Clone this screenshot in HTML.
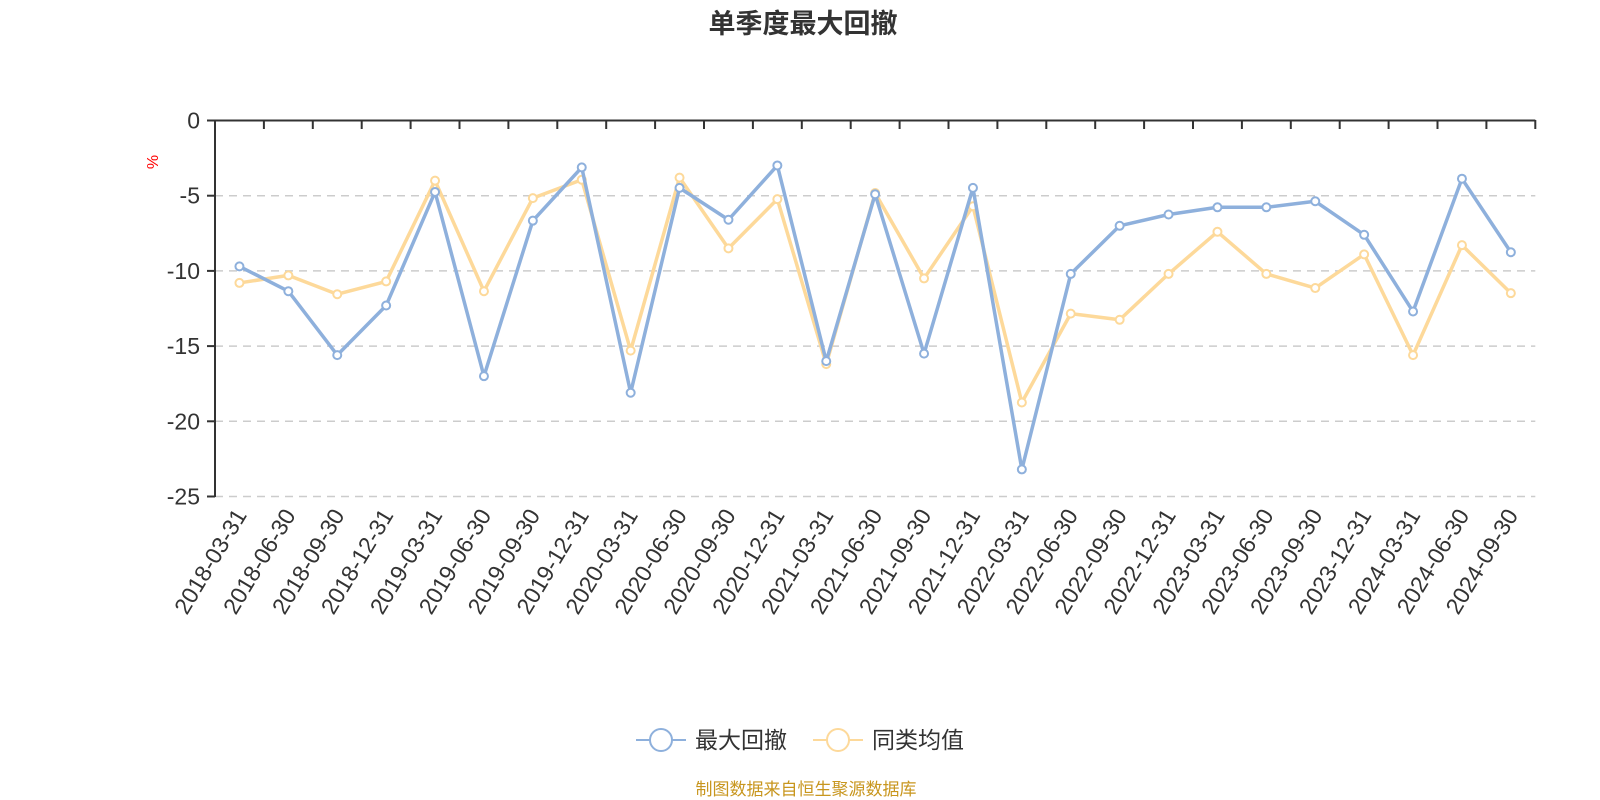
<!DOCTYPE html><html><head><meta charset="utf-8"><style>body{margin:0;background:#fff}svg{display:block}text{font-family:"Liberation Sans","Noto Sans CJK SC",sans-serif}</style></head><body>
<svg width="1600" height="800" xmlns="http://www.w3.org/2000/svg" id="s">
<text x="803" y="33" text-anchor="middle" font-size="27" font-weight="bold" fill="#333">单季度最大回撤</text>
<text x="0" y="0" font-size="16" fill="red" transform="translate(158,162) rotate(-90)" text-anchor="middle">%</text>
<g id="grid"></g>
<g id="d"></g>
<g transform="translate(636,740)">
<line x1="0" y1="0" x2="50" y2="0" stroke="#8eb0dc" stroke-width="2"/><circle cx="25" cy="0" r="11" fill="#fff" stroke="#8eb0dc" stroke-width="2"/>
<text x="59" y="8" font-size="23" fill="#333">最大回撤</text>
<line x1="177" y1="0" x2="227" y2="0" stroke="#fdd99a" stroke-width="2"/><circle cx="202" cy="0" r="11" fill="#fff" stroke="#fdd99a" stroke-width="2"/>
<text x="236" y="8" font-size="23" fill="#333">同类均值</text></g>
<text x="806" y="795" text-anchor="middle" font-size="17" fill="#c8961e">制图数据来自恒生聚源数据库</text>
</svg>
<script>
const cats=["2018-03-31","2018-06-30","2018-09-30","2018-12-31","2019-03-31","2019-06-30","2019-09-30","2019-12-31","2020-03-31","2020-06-30","2020-09-30","2020-12-31","2021-03-31","2021-06-30","2021-09-30","2021-12-31","2022-03-31","2022-06-30","2022-09-30","2022-12-31","2023-03-31","2023-06-30","2023-09-30","2023-12-31","2024-03-31","2024-06-30","2024-09-30"];
const a=[-9.7,-11.35,-15.6,-12.3,-4.75,-17,-6.66,-3.12,-18.1,-4.48,-6.6,-2.99,-16,-4.9,-15.5,-4.48,-23.2,-10.2,-7,-6.25,-5.77,-5.77,-5.37,-7.6,-12.7,-3.87,-8.76];
const b=[-10.8,-10.3,-11.55,-10.7,-4,-11.35,-5.16,-3.94,-15.3,-3.8,-8.5,-5.23,-16.2,-4.82,-10.5,-5.7,-18.75,-12.84,-13.25,-10.2,-7.4,-10.2,-11.14,-8.9,-15.6,-8.29,-11.48];
const W=48.9,X=i=>215+W/2+i*W,Y=v=>120.5-v*15.04,R=215+27*W;
let h="";
for(let k=1;k<=5;k++){const y=Y(-5*k);h+=`<line x1="215" y1="${y}" x2="${R}" y2="${y}" stroke="#ccc" stroke-dasharray="8,6" stroke-width="1.5"/>`;}
h+=`<line x1="215" y1="120.5" x2="${R}" y2="120.5" stroke="#333" stroke-width="2"/><line x1="215" y1="120" x2="215" y2="497" stroke="#333" stroke-width="2"/>`;
for(let k=0;k<=5;k++){const y=Y(-5*k);h+=`<line x1="207" y1="${y}" x2="215" y2="${y}" stroke="#333" stroke-width="2"/><text x="200" y="${y+8}" text-anchor="end" font-size="23" fill="#333">${k?-5*k:0}</text>`;}
for(let i=0;i<=27;i++){const x=215+i*W;h+=`<line x1="${x}" y1="120" x2="${x}" y2="129" stroke="#333" stroke-width="2"/>`;}
cats.forEach((c,i)=>{h+=`<text font-size="23" fill="#333" text-anchor="end" transform="translate(${X(i)+8},${515}) rotate(-59)">${c}</text>`;});
document.getElementById("grid").innerHTML=h;
let d="";
[[b,"#fdd99a"],[a,"#8eb0dc"]].forEach(([s,c])=>{d+=`<polyline fill="none" stroke="${c}" stroke-width="3.5" stroke-linejoin="round" points="${s.map((v,i)=>X(i)+","+Y(v)).join(" ")}"/>`;s.forEach((v,i)=>d+=`<circle cx="${X(i)}" cy="${Y(v)}" r="4" fill="#fff" stroke="${c}" stroke-width="2"/>`);});
document.getElementById("d").innerHTML=d;
</script></body></html>
